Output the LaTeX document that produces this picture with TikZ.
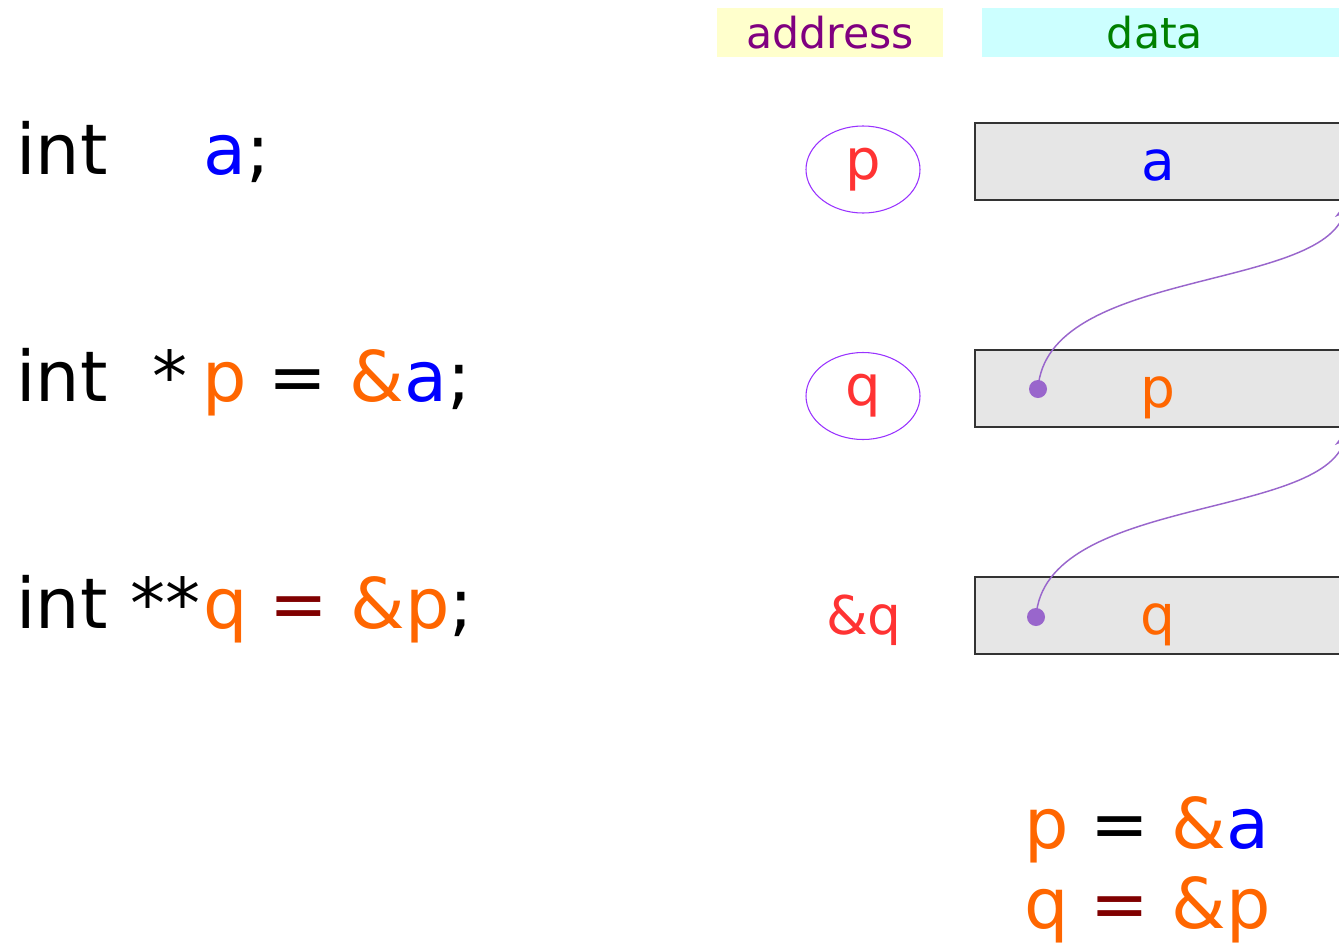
\documentclass[tikz,border=0pt]{standalone}
\usepackage{fontspec}
\setmainfont{DejaVu Sans}
\usetikzlibrary{shapes.geometric,arrows.meta}
\definecolor{cOrange}{HTML}{FF6600}
\definecolor{cBlue}{HTML}{0000FF}
\definecolor{cMaroon}{HTML}{800000}
\definecolor{cRed}{HTML}{FF3333}
\definecolor{cPurple}{HTML}{800080}
\definecolor{cGreen}{HTML}{008000}
\definecolor{cYellow}{HTML}{FFFFCC}
\definecolor{cCyan}{HTML}{CCFFFF}
\definecolor{cGray}{HTML}{E6E6E6}
\definecolor{cBorder}{HTML}{333333}
\definecolor{cViolet}{HTML}{9933FF}
\definecolor{cLink}{HTML}{9966CC}
\begin{document}
\begin{tikzpicture}[x=0.75pt,y=-0.75pt,
  code/.style={anchor=base west,inner sep=0pt,font=\fontsize{52.5}{60}\selectfont},
  header/.style={inner sep=0pt,minimum height=36.75pt,font=\fontsize{32}{36}\selectfont,text height=24.3pt,text depth=0pt},
  membox/.style={draw=cBorder,line width=0.8pt,fill=cGray,inner sep=0pt,minimum width=274.5pt,minimum height=57.75pt,
     font=\fontsize{41.25}{48}\selectfont,text height=30pt,text depth=1.5pt},
  addr/.style={ellipse,draw=cViolet,line width=0.8pt,inner sep=0pt,minimum width=85.5pt,minimum height=65.25pt,
     font=\fontsize{42}{48}\selectfont,text=cRed},
  ptr/.style={draw=cLink,line width=1.1pt,-{Stealth[length=15pt,width=12pt]}},
  dot/.style={fill=cLink}]
\useasboundingbox (0,0) rectangle (1339,943);
\clip (0,0) rectangle (1339,943);

% headers
\node[header,fill=cYellow,minimum width=169.5pt,text=cPurple] (haddr) at (830,32.5) {address};
\node[header,fill=cCyan,minimum width=267.75pt,text=cGreen] (hdata) at (1160.5,32.5) {data\hspace*{8.25pt}};

% code lines
\node[code] (int1) at (16,174) {int};
\node[code] (rest1) at (203,174) {\textcolor{cBlue}{a};};
\node[code] (int2) at (16,401) {int};
\node[code] (star2) at (152,401) {*};
\node[code] (rest2) at (202,401) {\textcolor{cOrange}{p} = \textcolor{cOrange}{\&}\textcolor{cBlue}{a};};
\node[code] (int3) at (16,628) {int};
\node[code] (star3) at (130,628) {**};
\node[code] (rest3) at (203,628) {\textcolor{cOrange}{q} \textcolor{cMaroon}{=} \textcolor{cOrange}{\&p};};

% address column
\node[addr] (ap) at (863,169.5) {p};
\node[addr] (aq) at (863,396) {q};
\node[inner sep=0pt,anchor=base,text=cRed,font=\fontsize{40}{46}\selectfont] (aaq) at (864,634) {\&q};

% data boxes
\node[membox,text=cBlue] (ba) at (1158,161.5) {a};
\node[membox,text=cOrange] (bp) at (1158,388.5) {p};
\node[membox,text=cOrange] (bq) at (1158,615.5) {q};

% pointers
\coordinate (dp) at (1038,389);
\coordinate (dq) at (1036,617);
\coordinate (ta) at (1348,200);
\coordinate (tp) at (1348,428);
\fill[dot] (dp) circle (6.75pt);
\fill[dot] (dq) circle (6.75pt);
\draw[ptr] (dp) .. controls (1046,268) and (1322,292) .. (ta);
\draw[ptr] (dq) .. controls (1044,496) and (1322,520) .. (tp);

% summary
\node[code,text=cOrange] (s1) at (1024,848) {p \textcolor{black}{=} \&\textcolor{cBlue}{a}};
\node[code,text=cOrange] (s2) at (1024,928) {q \textcolor{cMaroon}{=} \&p};
\end{tikzpicture}
\end{document}
